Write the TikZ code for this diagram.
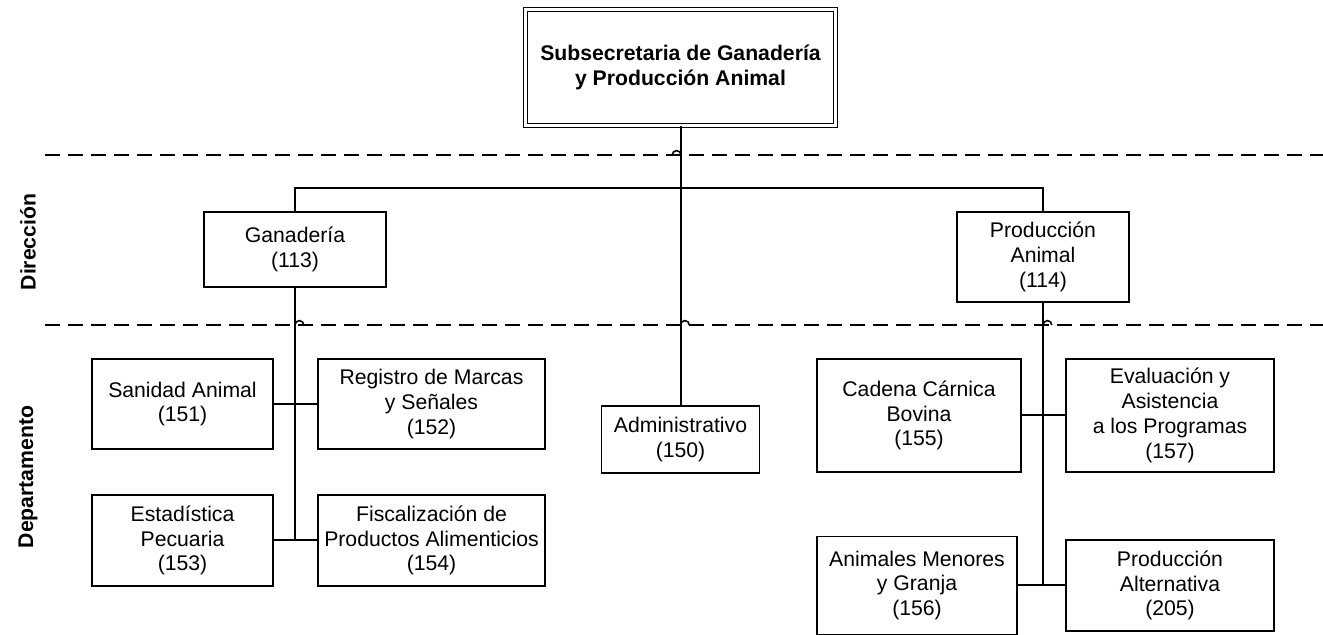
\documentclass[tikz,border=0pt]{standalone}
\usepackage{fontspec}
\setmainfont{Liberation Sans}
\begin{document}
\begin{tikzpicture}[
	x=0.5pt,y=-0.5pt,
	font=\fontsize{10.6}{12.4}\selectfont,
	box/.style={draw,line width=0.8pt,align=center,inner sep=0pt},
	head/.style={box,double,double distance=1.4pt,line width=0.6pt,font=\fontsize{10.6}{12.6}\selectfont\bfseries},
	lvl/.style={rotate=90,font=\fontsize{10.6}{12.4}\selectfont\bfseries},
	link/.style={line width=1pt},
	divider/.style={line width=1pt,dash pattern=on 7.5pt off 4pt},
	hop/.style={line width=0.8pt},
	]
\useasboundingbox (0,0) rectangle (1323,635);
\node [head,minimum width=155pt,minimum height=58pt] (sub) at (680.5,67.5) {Subsecretaria de Ganadería\\y Producción Animal};
\node [box,minimum width=91pt,minimum height=37.5pt] (gan) at (295,249.5) {Ganadería\\(113)};
\node [box,minimum width=86pt,minimum height=45pt] (pa) at (1043,257) {Producción\\Animal\\(114)};
\node [box,minimum width=79pt,minimum height=33.5pt] (adm) at (680.5,439.5) {Administrativo\\(150)};
\node [box,minimum width=90.5pt,minimum height=45pt] (san) at (182.5,404) {Sanidad Animal\\(151)};
\node [box,minimum width=113.5pt,minimum height=45pt] (reg) at (431.5,404) {Registro de Marcas\\y Señales\\(152)};
\node [box,minimum width=90.5pt,minimum height=45.5pt] (est) at (182.5,540.5) {Estadística\\Pecuaria\\(153)};
\node [box,minimum width=113.5pt,minimum height=45.5pt] (fis) at (431.5,540.5) {Fiscalización de\\Productos Alimenticios\\(154)};
\node [box,minimum width=102pt,minimum height=56.5pt] (cad) at (919,415.5) {Cadena Cárnica\\Bovina\\(155)};
\node [box,minimum width=104pt,minimum height=56.5pt] (eva) at (1170,415.5) {Evaluación y\\Asistencia\\a los Programas\\(157)};
\node [box,minimum width=100pt,minimum height=49pt] (ani) at (917,585.5) {Animales Menores\\y Granja\\(156)};
\node [box,minimum width=104pt,minimum height=45.5pt] (alt) at (1170,585.5) {Producción\\Alternativa\\(205)};
\node [lvl] (dir) at (28,242) {Dirección};
\node [lvl] (dep) at (28,477) {Departamento};
\coordinate (bar) at (681,188);
\draw [divider] (45,155) -- (1323,155);
\draw [divider] (45,325) -- (1323,325);
\draw [hop] (681,155) arc[start angle=0,end angle=180,radius=2.2pt];
\foreach \x in {295,680.5,1043}
	\draw [hop] (\x,325) arc[start angle=180,end angle=0,radius=2.2pt];
\draw [link] (sub.south) -- (adm.north);
\draw [link] (gan.north) -- (gan.north |- bar) -- (pa.north |- bar) -- (pa.north);
\draw [link] (gan.south) -- (gan.south |- est.east);
\draw [link] (pa.south) -- (pa.south |- ani.east);
\draw [link] (san.east) -- (reg.west);
\draw [link] (est.east) -- (fis.west);
\draw [link] (cad.east) -- (eva.west);
\draw [link] (ani.east) -- (alt.west);
\end{tikzpicture}
\end{document}
